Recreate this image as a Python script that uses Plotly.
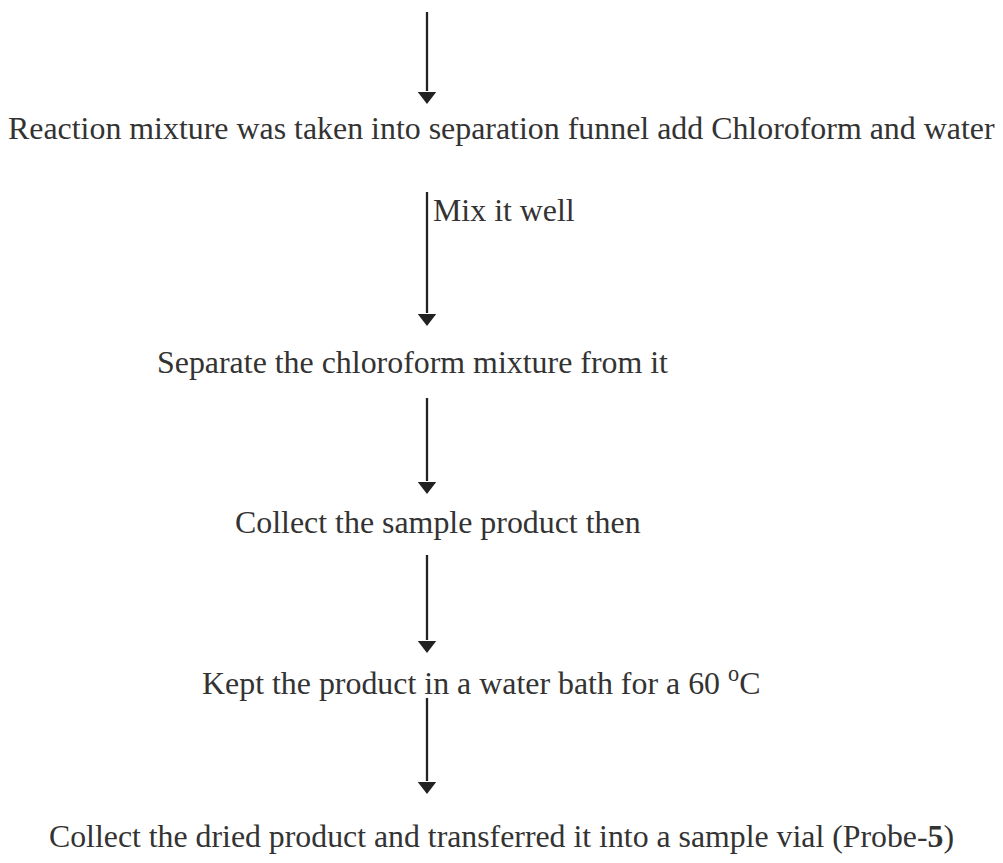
import plotly.graph_objects as go

# ---- content ----
steps = [
    "Reaction mixture was taken into separation funnel add Chloroform and water",
    "Separate the chloroform mixture from it",
    "Collect the sample product then",
    "Kept the product in a water bath for a 60 <sup>o</sup>C",
    "Collect the dried product and transferred it into a sample vial (Probe-<b>5</b>)",
]
arrow_labels = ["", "Mix it well", "", "", ""]

# ---- layout (pixel coordinates of the flowchart) ----
W, H = 1003, 863
step_x = [501, 412, 438, 481, 501]
step_baseline = [138, 372, 532, 691, 846]
step_size = [31.9, 31.9, 31.9, 31.9, 31.8]
arrow_x = 427
arrow_top = [12, 192, 398, 555, 698]
arrow_tip = [103, 325, 493, 652, 793]
label_x = 431
label_baseline = [0, 220, 0, 0, 0]

FONT = "Liberation Serif, Times New Roman, serif"
TXT = "#333333"
LINE = "#222222"
HEAD = 14

fig = go.Figure()

for top, tip in zip(arrow_top, arrow_tip):
    fig.add_trace(go.Scatter(
        x=[arrow_x, arrow_x], y=[top, tip - HEAD + 2], mode="lines",
        line=dict(color=LINE, width=2.3), hoverinfo="skip", showlegend=False))
    fig.add_trace(go.Scatter(
        x=[arrow_x], y=[tip - HEAD / 2], mode="markers",
        marker=dict(symbol="triangle-down", size=HEAD + 2, color=LINE,
                    line=dict(width=0)),
        hoverinfo="skip", showlegend=False))

for txt, x, base, size in zip(steps, step_x, step_baseline, step_size):
    fig.add_annotation(x=x, y=base - 0.3 * size, text=txt, showarrow=False,
                       xanchor="center", yanchor="middle",
                       font=dict(family=FONT, size=size, color=TXT))

for lab, base in zip(arrow_labels, label_baseline):
    if lab:
        fig.add_annotation(x=label_x, y=base - 0.3 * 31.9, text=lab, showarrow=False,
                           xanchor="left", yanchor="middle",
                           font=dict(family=FONT, size=31.9, color=TXT))

fig.update_layout(
    width=W, height=H,
    margin=dict(l=0, r=0, t=0, b=0),
    paper_bgcolor="white", plot_bgcolor="white",
    xaxis=dict(range=[0, W], visible=False, fixedrange=True),
    yaxis=dict(range=[H, 0], visible=False, fixedrange=True),
    hovermode=False,
)

fig.write_html("out.html", config={"displayModeBar": False},
               post_script="document.body.style.margin='0';")
